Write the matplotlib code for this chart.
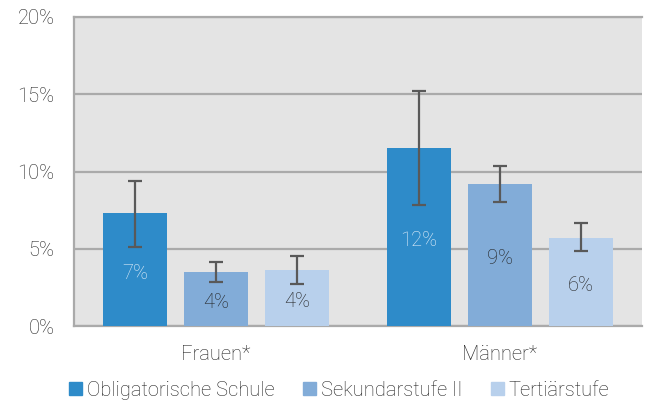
import numpy as np
import matplotlib.pyplot as plt
from matplotlib.patches import Patch

plt.rcParams['font.family'] = ['Roboto', 'DejaVu Sans']
plt.rcParams['font.weight'] = 'light'

groups = ['Frauen*', 'Männer*']
series = ['Obligatorische Schule', 'Sekundarstufe II', 'Tertiärstufe']
values = [[7.3, 11.5], [3.5, 9.2], [3.6, 5.7]]
err_low = [[5.1, 7.8], [2.85, 8.0], [2.7, 4.85]]
err_high = [[9.4, 15.2], [4.15, 10.35], [4.5, 6.65]]
labels = [['7%', '12%'], ['4%', '9%'], ['4%', '6%']]
colors = ['#2e8bc9', '#82acd8', '#b8d0ec']
label_colors = ['#e6f0fa', '#222222', '#222222']
fs = 14.5

fig = plt.figure(figsize=(6.46, 4.05), dpi=100)
ax = fig.add_axes([74 / 646, 1 - 326 / 405, 568 / 646, 309 / 405])
ax.set_facecolor('#e4e4e4')

x = np.arange(len(groups))
width = 0.225
step = 0.285
for i, s in enumerate(series):
    pos = x + (i - 1) * step
    v = np.array(values[i])
    lo = v - np.array(err_low[i])
    hi = np.array(err_high[i]) - v
    ax.bar(pos, v, width, color=colors[i], zorder=3, label=s)
    ax.errorbar(pos, v, yerr=[lo, hi], fmt='none', ecolor='#595959',
                elinewidth=1.6, capsize=5, capthick=1.6, zorder=4)
    for p, val, t in zip(pos, v, labels[i]):
        ax.text(p, val / 2 - 0.1, t, ha='center', va='center_baseline',
                fontsize=fs, color=label_colors[i], zorder=5)

ax.set_xlim(-0.5, 1.5)
ax.set_ylim(0, 20)
ax.set_yticks([0, 5, 10, 15, 20])
ax.set_yticklabels(['0%', '5%', '10%', '15%', '20%'])
ax.set_xticks(x)
ax.set_xticklabels(groups)
ax.tick_params(axis='both', length=0, labelsize=fs, colors='#222222')
ax.tick_params(axis='y', pad=14)
ax.tick_params(axis='x', pad=14)
ax.grid(axis='y', color='#aaaaaa', linewidth=1.6, zorder=1)
for sp in ax.spines.values():
    sp.set_color('#aaaaaa')
    sp.set_linewidth(1.6)
ax.spines['right'].set_visible(False)

handles = [Patch(color=c) for c in colors]
fig.legend(handles, series, loc='center', bbox_to_anchor=(0.525, 1 - 390 / 405),
           ncol=3, frameon=False, fontsize=fs, handlelength=0.65,
           handleheight=0.65, handletextpad=0.25, columnspacing=1.4,
           labelcolor='#222222')

fig.savefig('out.png', dpi=100)
